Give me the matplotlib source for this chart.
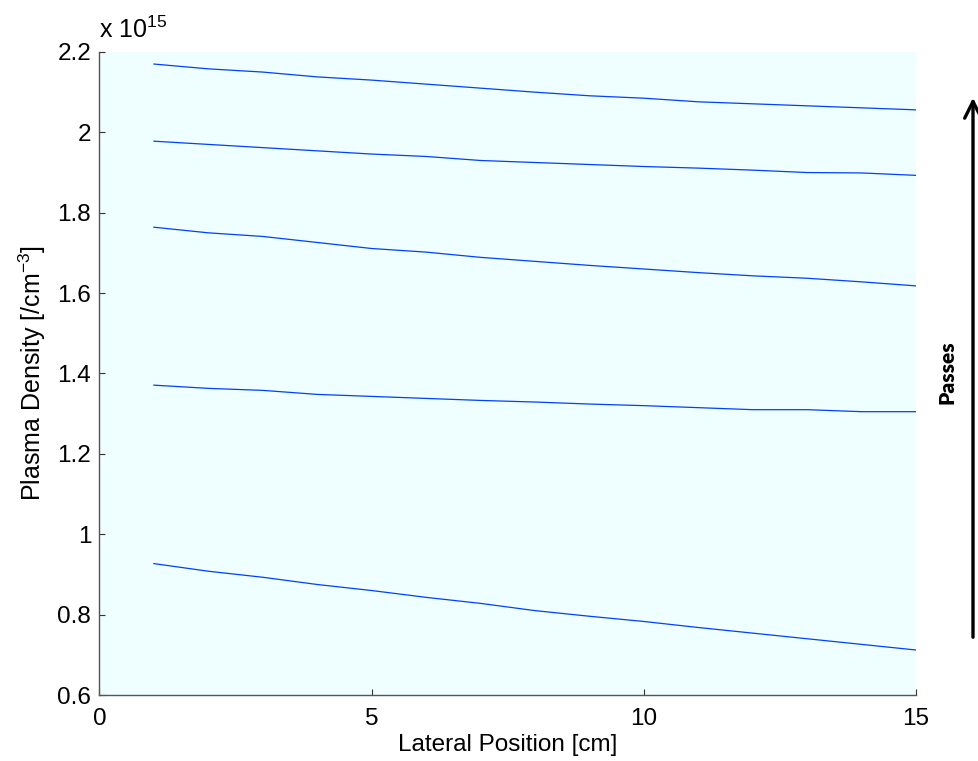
import matplotlib
matplotlib.use("Agg")
import matplotlib.pyplot as plt

plt.rcParams['font.family'] = ['Liberation Sans', 'DejaVu Sans']
plt.rcParams['mathtext.fontset'] = 'custom'
plt.rcParams['mathtext.rm'] = 'Liberation Sans'
plt.rcParams['mathtext.it'] = 'Liberation Sans'

# Lateral position along the sample (cm)
position = list(range(1, 16))

# Plasma density per pass, in units of 1e15 /cm^3 (pass 1 at bottom)
pass_1 = [0.927, 0.908, 0.893, 0.875, 0.860, 0.843, 0.828, 0.810,
          0.796, 0.783, 0.768, 0.754, 0.740, 0.726, 0.712]
pass_2 = [1.371, 1.363, 1.358, 1.348, 1.343, 1.338, 1.333, 1.329,
          1.324, 1.320, 1.315, 1.310, 1.310, 1.305, 1.305]
pass_3 = [1.764, 1.750, 1.741, 1.726, 1.711, 1.702, 1.689, 1.679,
          1.669, 1.660, 1.651, 1.643, 1.637, 1.628, 1.618]
pass_4 = [1.978, 1.970, 1.962, 1.954, 1.946, 1.940, 1.930, 1.925,
          1.920, 1.915, 1.911, 1.906, 1.900, 1.899, 1.893]
pass_5 = [2.170, 2.158, 2.150, 2.138, 2.130, 2.120, 2.110, 2.100,
          2.091, 2.085, 2.076, 2.071, 2.066, 2.061, 2.056]

xticks = [0, 5, 10, 15]
yticks = [0.6, 0.8, 1.0, 1.2, 1.4, 1.6, 1.8, 2.0, 2.2]
ytick_labels = ['0.6', '0.8', '1', '1.2', '1.4', '1.6', '1.8', '2', '2.2']

fig = plt.figure(figsize=(9.79, 7.61), dpi=100)
ax = fig.add_axes([0.1016, 0.0867, 0.8341, 0.8450])
ax.set_facecolor('#effefe')

for series in (pass_1, pass_2, pass_3, pass_4, pass_5):
    ax.plot(position, series, color='#0040ff', lw=0.9)

ax.set_xlim(0, 15)
ax.set_ylim(0.6, 2.2)
ax.set_xticks(xticks)
ax.set_xticklabels([str(t) for t in xticks])
ax.set_yticks(yticks)
ax.set_yticklabels(ytick_labels)

for side in ('top', 'right'):
    ax.spines[side].set_visible(False)
for side in ('left', 'bottom'):
    ax.spines[side].set_color('#555555')
    ax.spines[side].set_linewidth(1.0)
ax.tick_params(direction='in', length=4, width=0.8, color='#333333',
               labelsize=17.5)
ax.tick_params(axis='x', pad=9)
ax.tick_params(axis='y', pad=6)

ax.set_xlabel('Lateral Position [cm]', fontsize=17.5, labelpad=3)
ax.set_ylabel(r'Plasma Density [/cm$^{-3}$]', fontsize=18, labelpad=7)

ax.text(0.0, 0.022, r'x 10$^{15}$', transform=ax.transAxes,
        fontsize=18, ha='left', va='baseline')
ax.texts[-1].set_y(1.022)

# Arrow indicating increasing number of passes
ax.annotate('', xy=(973 / 979, 1 - 95 / 761), xytext=(973 / 979, 1 - 640 / 761),
            xycoords='figure fraction', textcoords='figure fraction',
            arrowprops=dict(arrowstyle='->', lw=2.4, color='black',
                            mutation_scale=30))
fig.text(947 / 979, 1 - 372 / 761, 'Passes', rotation=90, fontsize=15,
         fontweight='heavy', family=['Lato', 'DejaVu Sans'],
         ha='center', va='center')

fig.savefig('out.png', dpi=100)
